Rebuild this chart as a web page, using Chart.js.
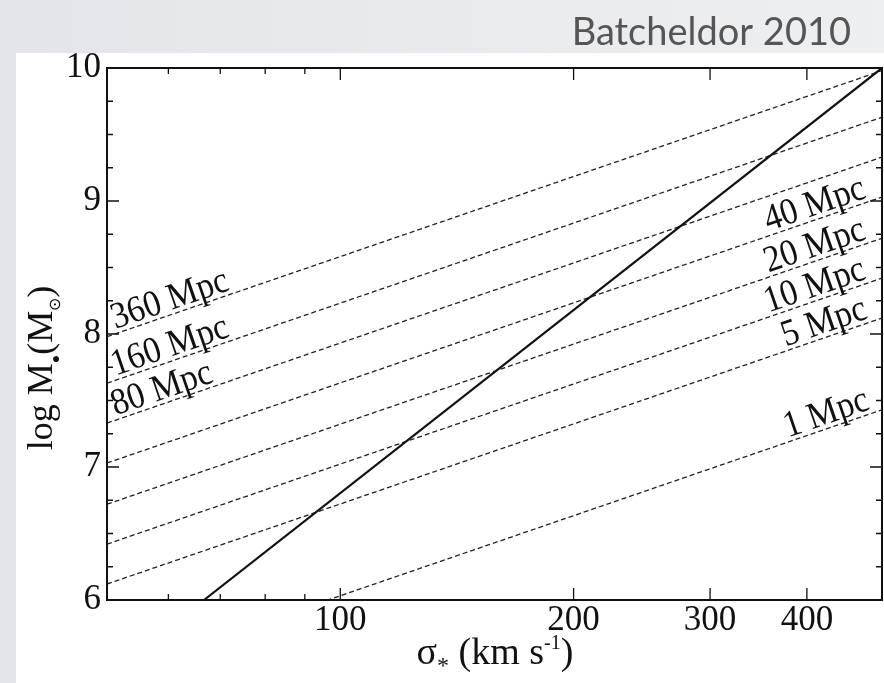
<!DOCTYPE html>
<html lang="en">
<head>
<meta charset="UTF-8">
<title>Batcheldor 2010</title>
<style>
  body { margin: 0; background: #e9eaec; }
  #chart { display: block; }
</style>
</head>
<body>
<canvas id="chart" width="884" height="683"></canvas>
<script src="https://cdn.jsdelivr.net/npm/chart.js"></script>
<script>
// axis ranges
const sigmaMin = 50;
const sigmaMax = 500;
const logMMin = 6;
const logMMax = 10;

// M-sigma relation (solid line), read at its two ends
const relSigma = [66.7, 500];
const relLogM = [6.0, 10.0];

// resolution limits for each distance (dashed lines), values at sigma = 50 and 500
const distLabels = ['360 Mpc', '160 Mpc', '80 Mpc', '40 Mpc', '20 Mpc', '10 Mpc', '5 Mpc', '1 Mpc'];
const dashSigma = [50, 500];
const dashLeft = [7.98, 7.63, 7.33, 7.03, 6.72, 6.42, 6.12, 5.43];
const dashRight = [9.98, 9.63, 9.33, 9.03, 8.72, 8.42, 8.12, 7.43];
const labelSide = ['left', 'left', 'left', 'right', 'right', 'right', 'right', 'right'];
const labelSigma = [51.5, 51.5, 51.5, 481, 481, 481, 483, 486];

// ticks
const xTickVals = [50, 60, 70, 80, 90, 100, 200, 300, 400, 500];
const xMajor = [100, 200, 300, 400];
const yTickVals = [6, 7, 8, 9, 10];
const yMinorStep = 0.25;

const serif = '"Liberation Serif", "Times New Roman", serif';

const datasets = [{
    data: relSigma.map((s, i) => ({ x: s, y: relLogM[i] })),
    showLine: true,
    borderColor: '#111',
    borderWidth: 2.2,
    pointRadius: 0
}];
distLabels.forEach((d, i) => {
    datasets.push({
        data: [{ x: dashSigma[0], y: dashLeft[i] }, { x: dashSigma[1], y: dashRight[i] }],
        showLine: true,
        borderColor: '#222',
        borderWidth: 1.3,
        borderDash: [5, 3],
        pointRadius: 0
    });
});

function drawRuns(ctx, runs, cx, cy) {
    let total = 0;
    runs.forEach(r => {
        ctx.font = r[1] + 'px ' + serif;
        total += ctx.measureText(r[0]).width;
    });
    let x = cx - total / 2;
    ctx.textAlign = 'left';
    ctx.textBaseline = 'alphabetic';
    runs.forEach(r => {
        ctx.font = r[1] + 'px ' + serif;
        ctx.fillText(r[0], x, cy + r[2]);
        x += ctx.measureText(r[0]).width;
    });
}

const decor = {
    id: 'decor',
    beforeDraw(chart) {
        const ctx = chart.ctx;
        const g = ctx.createLinearGradient(0, 0, 884, 0);
        g.addColorStop(0, '#e4e5e8');
        g.addColorStop(1, '#eeeff1');
        ctx.save();
        ctx.fillStyle = g;
        ctx.fillRect(0, 0, chart.width, chart.height);
        ctx.fillStyle = '#fff';
        ctx.fillRect(16, 53, chart.width - 16, chart.height - 53);

        ctx.fillStyle = '#555';
        ctx.font = '38px Lato, "Open Sans", sans-serif';
        ctx.textAlign = 'right';
        ctx.textBaseline = 'alphabetic';
        ctx.fillText('Batcheldor 2010', 851, 45);
        ctx.restore();
    },
    afterDatasetsDraw(chart) {
        const ctx = chart.ctx;
        const a = chart.chartArea;
        const xs = chart.scales.x;
        const ys = chart.scales.y;
        ctx.save();
        ctx.strokeStyle = '#111';
        ctx.fillStyle = '#111';

        // frame
        ctx.lineWidth = 2;
        ctx.strokeRect(a.left, a.top, a.right - a.left, a.bottom - a.top);

        // ticks pointing inward
        ctx.lineWidth = 1.3;
        ctx.beginPath();
        xTickVals.forEach(v => {
            const px = xs.getPixelForValue(v);
            const len = xMajor.includes(v) ? 12 : 6;
            ctx.moveTo(px, a.bottom); ctx.lineTo(px, a.bottom - len);
            ctx.moveTo(px, a.top); ctx.lineTo(px, a.top + len);
        });
        for (let v = logMMin; v <= logMMax + 1e-9; v += yMinorStep) {
            const py = ys.getPixelForValue(v);
            const len = Math.abs(v - Math.round(v)) < 1e-6 ? 12 : 6;
            ctx.moveTo(a.left, py); ctx.lineTo(a.left + len, py);
            ctx.moveTo(a.right, py); ctx.lineTo(a.right - len, py);
        }
        ctx.stroke();

        // distance labels along dashed lines
        const ang = Math.atan2(
            ys.getPixelForValue(dashRight[0]) - ys.getPixelForValue(dashLeft[0]),
            xs.getPixelForValue(dashSigma[1]) - xs.getPixelForValue(dashSigma[0]));
        ctx.font = '34px ' + serif;
        ctx.textBaseline = 'alphabetic';
        distLabels.forEach((d, i) => {
            const s = labelSigma[i];
            const f = Math.log(s / dashSigma[0]) / Math.log(dashSigma[1] / dashSigma[0]);
            const m = dashLeft[i] + f * (dashRight[i] - dashLeft[i]);
            ctx.save();
            ctx.translate(xs.getPixelForValue(s), ys.getPixelForValue(m));
            ctx.rotate(ang);
            ctx.scale(1, 1.1);
            ctx.textAlign = labelSide[i] === 'left' ? 'left' : 'right';
            ctx.fillText(d, 0, -4);
            ctx.restore();
        });

        // axis titles
        drawRuns(ctx, [['σ', 38, 0], ['*', 24, 9], [' (km s', 38, 0], ['-1', 20, -15], [')', 38, 0]], 495, 664);
        ctx.save();
        ctx.translate(52, 368);
        ctx.rotate(-Math.PI / 2);
        drawRuns(ctx, [['log M', 36, 0], ['●', 14, 8], ['(M', 36, 0], ['⊙', 16, 8], [')', 36, 0]], 0, 0);
        ctx.restore();
        ctx.restore();
    }
};

new Chart(document.getElementById('chart'), {
    type: 'scatter',
    data: { datasets: datasets },
    options: {
        responsive: false,
        animation: false,
        layout: { padding: { top: 68, right: 2, left: 0, bottom: 0 } },
        plugins: { legend: { display: false }, tooltip: { enabled: false } },
        scales: {
            x: {
                type: 'logarithmic',
                min: sigmaMin,
                max: sigmaMax,
                afterBuildTicks: s => { s.ticks = xTickVals.map(v => ({ value: v })); },
                afterFit: s => { s.height = 83; },
                grid: { display: false, drawTicks: false },
                border: { display: false },
                ticks: {
                    autoSkip: false,
                    maxRotation: 0,
                    padding: 0,
                    color: '#111',
                    font: { family: serif, size: 35 },
                    callback: v => xMajor.includes(v) ? String(v) : ''
                }
            },
            y: {
                min: logMMin,
                max: logMMax,
                afterBuildTicks: s => { s.ticks = yTickVals.map(v => ({ value: v })); },
                afterFit: s => { s.width = 107; },
                grid: { display: false, drawTicks: false },
                border: { display: false },
                ticks: {
                    padding: 6,
                    color: '#111',
                    font: { family: serif, size: 35 }
                }
            }
        }
    },
    plugins: [decor]
});
</script>
</body>
</html>
